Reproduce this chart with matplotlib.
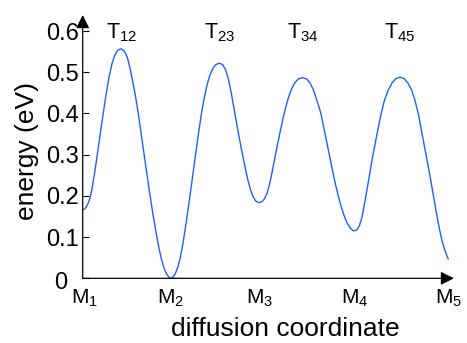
import matplotlib
matplotlib.use("Agg")
import matplotlib.pyplot as plt
from matplotlib.transforms import ScaledTranslation

plt.rcParams["font.family"] = ["Liberation Sans", "DejaVu Sans"]
plt.rcParams["mathtext.fontset"] = "custom"
plt.rcParams["mathtext.rm"] = "Liberation Sans"
plt.rcParams["mathtext.it"] = "Liberation Sans:italic"

# energy profile along the diffusion coordinate
coord = [
    # M1 -> T12
    0.000, 0.022, 0.044, 0.066, 0.088, 0.115, 0.143, 0.176, 0.209, 0.242, 0.275, 0.308, 0.341,
    0.374, 0.410,
    # T12 -> M2
    0.445, 0.478, 0.511, 0.538, 0.566, 0.593, 0.626, 0.656, 0.689, 0.722, 0.758, 0.795, 0.824,
    0.852, 0.879, 0.907, 0.929, 0.953,
    # M2 -> T23
    0.978, 1.005, 1.033, 1.060, 1.088, 1.121, 1.157, 1.187, 1.220, 1.253, 1.286, 1.319, 1.352,
    1.385, 1.418, 1.451, 1.487,
    # T23 -> M3
    1.522, 1.555, 1.588, 1.621, 1.654, 1.687, 1.714, 1.744, 1.775, 1.802, 1.830, 1.857, 1.879,
    1.901, 1.926,
    # M3 -> T34
    1.956, 1.984, 2.011, 2.038, 2.066, 2.093, 2.121, 2.154, 2.187, 2.220, 2.253, 2.286, 2.319,
    2.357, 2.403,
    # T34 -> M4
    2.445, 2.484, 2.520, 2.560, 2.604, 2.648, 2.696, 2.725, 2.758, 2.791, 2.824, 2.857, 2.890,
    2.923, 2.951, 2.970,
    # M4 -> T45
    3.000, 3.027, 3.055, 3.082, 3.110, 3.137, 3.168, 3.198, 3.231, 3.264, 3.302, 3.344, 3.385,
    3.429, 3.473,
    # T45 -> M5
    3.516, 3.560, 3.601, 3.637, 3.674, 3.714, 3.758, 3.797, 3.832, 3.868, 3.904, 3.934, 3.962,
    3.984, 4.003,
]
energy = [
    0.167, 0.172, 0.181, 0.195, 0.217, 0.253, 0.295, 0.346, 0.397, 0.445, 0.488, 0.521, 0.543,
    0.554, 0.557,
    0.551, 0.535, 0.505, 0.475, 0.442, 0.405, 0.355, 0.308, 0.257, 0.207, 0.155, 0.108, 0.073,
    0.046, 0.025, 0.011, 0.004, 0.000,
    0.003, 0.012, 0.028, 0.052, 0.085, 0.132, 0.188, 0.236, 0.290, 0.343, 0.393, 0.435, 0.469,
    0.494, 0.510, 0.519, 0.522,
    0.519, 0.507, 0.483, 0.447, 0.405, 0.365, 0.332, 0.298, 0.265, 0.238, 0.215, 0.199, 0.190,
    0.1855, 0.1835,
    0.186, 0.193, 0.206, 0.227, 0.256, 0.287, 0.318, 0.354, 0.388, 0.418, 0.443, 0.462, 0.475,
    0.484, 0.487,
    0.484, 0.474, 0.458, 0.432, 0.400, 0.352, 0.300, 0.268, 0.234, 0.203, 0.176, 0.153, 0.135,
    0.123, 0.117, 0.115,
    0.118, 0.128, 0.148, 0.180, 0.215, 0.250, 0.290, 0.325, 0.362, 0.398, 0.432, 0.457, 0.474,
    0.485, 0.488,
    0.485, 0.474, 0.457, 0.432, 0.400, 0.352, 0.301, 0.255, 0.211, 0.165, 0.122, 0.092, 0.070,
    0.057, 0.047,
]

minima_pos = [0.0, 0.953, 1.926, 2.970, 4.003]
minima_labels = [r"$\mathregular{M_{1}}$", r"$\mathregular{M_{2}}$", r"$\mathregular{M_{3}}$",
                 r"$\mathregular{M_{4}}$", r"$\mathregular{M_{5}}$"]
ts_pos = [0.410, 1.487, 2.403, 3.473]
ts_labels = [r"$\mathregular{T_{12}}$", r"$\mathregular{T_{23}}$", r"$\mathregular{T_{34}}$",
             r"$\mathregular{T_{45}}$"]
yticks = [0, 0.1, 0.2, 0.3, 0.4, 0.5, 0.6]
ytick_labels = ["0", "0.1", "0.2", "0.3", "0.4", "0.5", "0.6"]

fig = plt.figure(figsize=(4.67, 3.43), dpi=100)
ax = fig.add_axes([0.1771, 0.1886, 0.795, 0.7676])

ax.plot(coord, energy, color="#1f5fff", lw=1.0, solid_joinstyle="round")

ax.set_xlim(-0.014, 4.066)
ax.set_ylim(0, 0.639)

for s in ax.spines.values():
    s.set_visible(False)

arrow = dict(arrowstyle="-|>", color="black", lw=0.9, mutation_scale=20,
             shrinkA=0, shrinkB=0)
ax.annotate("", xy=(0, 1), xytext=(0, 0), xycoords="axes fraction",
            textcoords="axes fraction", arrowprops=arrow, annotation_clip=False)
ax.annotate("", xy=(1, 0), xytext=(0, 0), xycoords="axes fraction",
            textcoords="axes fraction", arrowprops=arrow, annotation_clip=False)

ax.set_yticks(yticks, ytick_labels)
ax.tick_params(axis="y", direction="in", length=4, width=0.8, pad=3, labelsize=17)
ax.set_xticks(minima_pos, minima_labels)
ax.tick_params(axis="x", length=0, pad=7, labelsize=15)

# the zero label sits a bit further left in the original
lab0 = ax.get_yticklabels()[0]
lab0.set_transform(lab0.get_transform() + ScaledTranslation(-8 / 72, -1.5 / 72, fig.dpi_scale_trans))

for xp, lab in zip(ts_pos, ts_labels):
    ax.text(xp, 0.583, lab, ha="center", va="baseline", fontsize=15.5)

fig.text(27 / 467, 1 - 151 / 343, "energy (eV)", rotation=90, ha="center",
         va="center", fontsize=19)
fig.text(285.5 / 467, 7 / 343, "diffusion coordinate", ha="center",
         va="baseline", fontsize=19)

fig.savefig("out.png", dpi=100)
